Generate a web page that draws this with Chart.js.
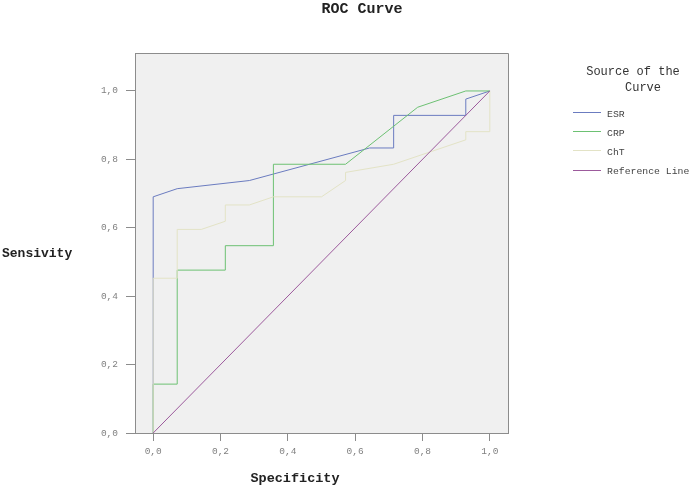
<!DOCTYPE html>
<html>
<head>
<meta charset="utf-8">
<script src="https://cdn.jsdelivr.net/npm/chart.js@4.4.0/dist/chart.umd.min.js"></script>
<style>
html,body{margin:0;padding:0;background:#fff;}
#wrap{width:690px;height:487px;position:relative;}
</style>
</head>
<body>
<div id="wrap"><canvas id="c" width="690" height="487"></canvas></div>
<script>
// ---- data ----
const seriesNames = ['ESR', 'CRP', 'ChT', 'Reference Line'];
const esrX = [0, 0, 0.0714, 0.2857, 0.6429, 0.7143, 0.7143, 0.9286, 0.9286, 1];
const esrY = [0, 0.6905, 0.7143, 0.7381, 0.8333, 0.8333, 0.9286, 0.9286, 0.9762, 1];
const crpX = [0, 0, 0.0714, 0.0714, 0.2143, 0.2143, 0.3571, 0.3571, 0.5714, 0.7857, 0.9286, 1];
const crpY = [0, 0.1429, 0.1429, 0.4762, 0.4762, 0.5476, 0.5476, 0.7857, 0.7857, 0.9524, 1, 1];
const chtX = [0, 0, 0.0714, 0.0714, 0.1429, 0.2143, 0.2143, 0.2857, 0.3571, 0.5, 0.5714, 0.5714, 0.7143, 0.9286, 0.9286, 1, 1];
const chtY = [0, 0.4524, 0.4524, 0.5952, 0.5952, 0.6190, 0.6667, 0.6667, 0.6905, 0.6905, 0.7381, 0.7619, 0.7857, 0.8571, 0.8810, 0.8810, 1];
const refX = [0, 1];
const refY = [0, 1];
const tickValues = [0, 0.2, 0.4, 0.6, 0.8, 1.0];
const tickLabels = ['0,0', '0,2', '0,4', '0,6', '0,8', '1,0'];
const chartTitle = 'ROC Curve';
const xTitle = 'Specificity';
const yTitle = 'Sensivity';
const legendTitle = ['Source of the', 'Curve'];

const colors = ['#6b7cc0', '#6dc173', '#e3e3c6', '#9c5a9c'];
const toPts = (xs, ys) => xs.map((x, i) => ({x: x, y: ys[i]}));

const axisColor = '#8c8c8c';
const mono = '"Liberation Mono", "Courier New", monospace';

const decor = {
  id: 'decor',
  beforeDraw(chart) {
    const {ctx, chartArea: a} = chart;
    ctx.save();
    ctx.fillStyle = '#ffffff';
    ctx.fillRect(0, 0, chart.width, chart.height);
    ctx.fillStyle = '#f0f0f0';
    ctx.fillRect(a.left, a.top, a.right - a.left, a.bottom - a.top);
    ctx.restore();
  },
  afterDraw(chart) {
    const {ctx, chartArea: a} = chart;
    ctx.save();
    ctx.strokeStyle = axisColor;
    ctx.lineWidth = 1;
    ctx.beginPath();
    ctx.moveTo(Math.round(a.left) + 0.5, Math.round(a.top) + 0.5);
    ctx.lineTo(Math.round(a.right) + 0.5, Math.round(a.top) + 0.5);
    ctx.lineTo(Math.round(a.right) + 0.5, Math.round(a.bottom) + 0.5);
    ctx.moveTo(Math.round(a.left) - 9, Math.round(a.bottom) + 0.5);
    ctx.lineTo(Math.round(a.left), Math.round(a.bottom) + 0.5);
    ctx.stroke();

    // titles
    ctx.fillStyle = '#222';
    ctx.textBaseline = 'middle';
    ctx.textAlign = 'center';
    ctx.font = 'bold 15px ' + mono;
    ctx.fillText(chartTitle, 362, 9);
    ctx.font = 'bold 13.5px ' + mono;
    ctx.fillText(xTitle, 295, 479);
    ctx.textAlign = 'left';
    ctx.font = 'bold 13px ' + mono;
    ctx.fillText(yTitle, 2, 254);

    // legend
    ctx.fillStyle = '#333';
    ctx.font = '12px ' + mono;
    ctx.textAlign = 'center';
    ctx.fillText(legendTitle[0], 633, 72);
    ctx.fillText(legendTitle[1], 643, 88);
    ctx.textAlign = 'left';
    ctx.font = '9.8px ' + mono;
    const ys = [112, 131, 150, 169.5];
    chart.data.datasets.forEach((ds, i) => {
      ctx.strokeStyle = ds.borderColor;
      ctx.beginPath();
      ctx.moveTo(573, Math.round(ys[i]) + 0.5);
      ctx.lineTo(601, Math.round(ys[i]) + 0.5);
      ctx.stroke();
      ctx.fillStyle = '#444';
      ctx.fillText(ds.label, 607, ys[i] + 2);
    });
    ctx.restore();
  }
};

new Chart(document.getElementById('c'), {
  type: 'scatter',
  data: {
    datasets: [
      {label: seriesNames[0], data: toPts(esrX, esrY), borderColor: colors[0], order: 4},
      {label: seriesNames[1], data: toPts(crpX, crpY), borderColor: colors[1], order: 3},
      {label: seriesNames[2], data: toPts(chtX, chtY), borderColor: colors[2], order: 2},
      {label: seriesNames[3], data: toPts(refX, refY), borderColor: colors[3], order: 1}
    ].map(d => Object.assign(d, {showLine: true, borderWidth: 1, pointRadius: 0, pointHoverRadius: 0, fill: false, tension: 0}))
  },
  options: {
    responsive: false,
    animation: false,
    events: [],
    layout: {padding: {left: 0, top: 53, right: 182, bottom: 0}},
    plugins: {legend: {display: false}, title: {display: false}, tooltip: {enabled: false}},
    scales: {
      x: {
        type: 'linear', min: -0.054, max: 1.054,
        afterBuildTicks: s => { s.ticks = tickValues.map(v => ({value: v})); },
        afterFit: s => { s.height = 487 - 433; },
        grid: {drawOnChartArea: false, drawTicks: true, tickLength: 8, color: axisColor},
        border: {display: true, color: axisColor},
        ticks: {padding: 5, color: '#808080', font: {family: mono, size: 9.5}, maxRotation: 0,
          callback: (v, i) => tickLabels[i]}
      },
      y: {
        type: 'linear', min: 0, max: 1.111,
        afterBuildTicks: s => { s.ticks = tickValues.map(v => ({value: v})); },
        afterFit: s => { s.width = 135; },
        grid: {drawOnChartArea: false, drawTicks: true, tickLength: 9, color: axisColor},
        border: {display: true, color: axisColor},
        ticks: {padding: 8, color: '#808080', font: {family: mono, size: 9.5},
          callback: (v, i) => tickLabels[i]}
      }
    }
  },
  plugins: [decor]
});
</script>
</body>
</html>
